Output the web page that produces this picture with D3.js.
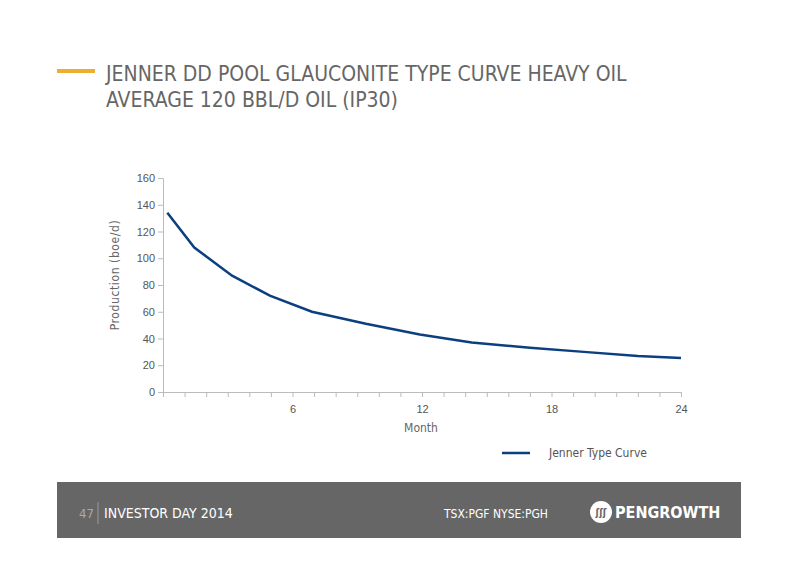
<!DOCTYPE html><html><head><meta charset="utf-8"><script src="https://cdn.jsdelivr.net/npm/d3@7"></script>
<style>body{margin:0;background:#fff}</style></head><body><svg id="c" width="800" height="565"></svg>
<script>
const months=[0.2,1.45,3.2,4.95,6.9,9.4,11.9,14.3,17,19.5,22,24];
const production=[134,108,87,72,60,51,43,37,33,30,27,25.5];
const yTicks=[0,20,40,60,80,100,120,140,160];
const xTicks=[6,12,18,24];
const svg=d3.select("#c");
const F="'DejaVu Sans Condensed','DejaVu Sans',sans-serif";
svg.append("rect").attr("x",57).attr("y",69).attr("width",38).attr("height",4).attr("fill","#F0AD34");
svg.append("text").attr("x",106).attr("y",81).attr("font-family",F).attr("font-size",21).attr("fill","#666").text("JENNER DD POOL GLAUCONITE TYPE CURVE HEAVY OIL");
svg.append("text").attr("x",106).attr("y",107).attr("font-family",F).attr("font-size",21).attr("fill","#666").text("AVERAGE 120 BBL/D OIL (IP30)");
const x=d3.scaleLinear().domain([0,24]).range([163,681]);
const y=d3.scaleLinear().domain([0,160]).range([392,178]);
const g=svg.append("g");
const ya=g.append("g").attr("transform","translate(163,0)").call(d3.axisLeft(y).tickValues(yTicks).tickSize(5).tickSizeOuter(0));
const xa=g.append("g").attr("transform","translate(0,392)").call(d3.axisBottom(x).tickValues(d3.range(0,25)).tickSize(5).tickSizeOuter(0).tickFormat(d=>xTicks.includes(d)?d:""));
[ya,xa].forEach(a=>{a.selectAll("path,line").attr("stroke","#bbb");a.selectAll("text").attr("fill","#555").attr("font-family","Arial,'Liberation Sans',sans-serif").attr("font-size",11);});
xa.selectAll("text").attr("dy","1.2em");
g.append("path").datum(months.map((m,i)=>[m,production[i]])).attr("fill","none").attr("stroke","#0B3F80").attr("stroke-width",2.5)
 .attr("d",d3.line().x(d=>x(d[0])).y(d=>y(d[1])));
svg.append("text").attr("transform","translate(119,275) rotate(-90)").attr("text-anchor","middle").attr("font-family",F).attr("font-size",12).attr("fill","#666").attr("letter-spacing",0.6).text("Production (boe/d)");
svg.append("text").attr("x",421).attr("y",432).attr("text-anchor","middle").attr("font-family",F).attr("font-size",12).attr("fill","#666").text("Month");
svg.append("line").attr("x1",502).attr("x2",530).attr("y1",453).attr("y2",453).attr("stroke","#0B3F80").attr("stroke-width",2.5);
svg.append("text").attr("x",549).attr("y",457).attr("font-family",F).attr("font-size",12).attr("fill","#555").text("Jenner Type Curve");
svg.append("rect").attr("x",57).attr("y",482).attr("width",684).attr("height",56).attr("fill","#666");
svg.append("text").attr("x",79).attr("y",518).attr("font-family",F).attr("font-size",13).attr("fill","#aaa").text("47");
svg.append("line").attr("x1",98).attr("x2",98).attr("y1",502).attr("y2",524).attr("stroke","#999");
svg.append("text").attr("x",104).attr("y",518).attr("font-family",F).attr("font-size",14).attr("fill","#fff").text("INVESTOR DAY 2014");
svg.append("text").attr("x",444).attr("y",518).attr("font-family",F).attr("font-size",12).attr("fill","#fff").text("TSX:PGF   NYSE:PGH");
svg.append("circle").attr("cx",601).attr("cy",512).attr("r",11).attr("fill","#fff");
svg.append("text").attr("x",601).attr("y",516).attr("text-anchor","middle").attr("font-family",F).attr("font-size",10).attr("font-weight","bold").attr("fill","#666").text("ʃʃʃ");
svg.append("text").attr("x",615).attr("y",518).attr("font-family",F).attr("font-size",16).attr("font-weight","bold").attr("fill","#fff").text("PENGROWTH");
</script></body></html>
